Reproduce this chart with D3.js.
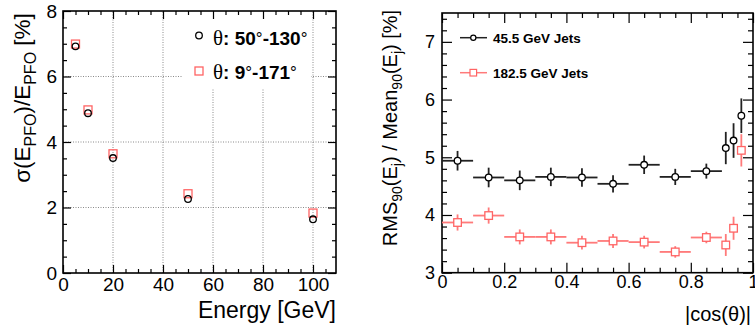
<!DOCTYPE html>
<html><head><meta charset="utf-8">
<script src="https://cdn.jsdelivr.net/npm/d3@7"></script>
<style>
body{margin:0;background:#fff;}
svg{display:block;font-family:"Liberation Sans",Arial,sans-serif;}
</style></head>
<body>
<svg id="c" width="755" height="327"></svg>
<script>
// ---------- Left panel data ----------
const energies = [5, 10, 20, 50, 100];
const resBarrel = [6.92, 4.88, 3.51, 2.26, 1.64];   // theta 50-130, circles
const resFull   = [6.99, 4.98, 3.64, 2.42, 1.83];   // theta 9-171, squares
const leftXTicks = [0, 20, 40, 60, 80, 100];
const leftYTicks = [0, 2, 4, 6, 8];

// ---------- Right panel data ----------
const cosCenters = [0.05, 0.15, 0.25, 0.35, 0.45, 0.55, 0.65, 0.75, 0.85, 0.9125, 0.9375, 0.9625];
const cosHalfWidth = [0.05, 0.05, 0.05, 0.05, 0.05, 0.05, 0.05, 0.05, 0.05, 0, 0, 0];
const jets45  = [4.94, 4.65, 4.60, 4.66, 4.65, 4.54, 4.87, 4.66, 4.76, 5.16, 5.29, 5.72];
const jets45Err = [0.17, 0.17, 0.17, 0.16, 0.16, 0.15, 0.16, 0.14, 0.13, 0.28, 0.30, 0.30];
const jets182 = [3.87, 3.99, 3.62, 3.62, 3.52, 3.55, 3.53, 3.36, 3.61, 3.48, 3.77, 5.12];
const jets182Err = [0.14, 0.14, 0.13, 0.13, 0.12, 0.12, 0.11, 0.10, 0.10, 0.19, 0.20, 0.28];
const rightXTicks = [0, 0.2, 0.4, 0.6, 0.8, 1];
const rightYTicks = [3, 4, 5, 6, 7];

const RED = "#ff6464";
const svg = d3.select("#c");

// ================= LEFT PANEL =================
const xL = d3.scaleLinear().domain([0, 109.2]).range([63, 336]);
const yL = d3.scaleLinear().domain([0, 8]).range([273, 11]);
const L = svg.append("g");

// grid
const grid = L.append("g").attr("stroke", "#8a8a8a").attr("stroke-width", 1).attr("stroke-dasharray", "1,1.5");
leftXTicks.filter(d => d > 0).forEach(d => grid.append("line").attr("x1", xL(d)).attr("x2", xL(d)).attr("y1", yL(0)).attr("y2", yL(8)));
leftYTicks.filter(d => d > 0 && d < 8).forEach(d => grid.append("line").attr("x1", xL(0)).attr("x2", xL(109.2)).attr("y1", yL(d)).attr("y2", yL(d)));
// legend background
L.append("rect").attr("x", 182).attr("y", 12).attr("width", 129).attr("height", 77).attr("fill", "#fff");

function frameAxes(g, x, y, xMajor, xMinorStep, yMajor, yMinorStep, opt) {
  const [x0, x1] = x.range(), [y0, y1] = y.range();
  const xd = x.domain(), yd = y.domain();
  const xMinor = d3.range(xd[0], xd[1] + 1e-9, xMinorStep).filter(v => !xMajor.some(m => Math.abs(m - v) < 1e-9));
  const yMinor = d3.range(yd[0], yd[1] + 1e-9, yMinorStep).filter(v => !yMajor.some(m => Math.abs(m - v) < 1e-9));
  const fmt = opt.fmt;
  const styleAx = s => { s.select(".domain").remove(); s.selectAll("line").attr("stroke", "#000").attr("stroke-width", 1.2); s.selectAll("text").attr("font-size", opt.fs).attr("fill", "#000").attr("font-family", "Liberation Sans, Arial, sans-serif"); };
  g.append("g").attr("transform", `translate(0,${y0})`).call(d3.axisBottom(x).tickValues(xMajor).tickFormat(fmt).tickSize(-opt.maj).tickPadding(opt.padX)).call(styleAx);
  g.append("g").attr("transform", `translate(0,${y0})`).call(d3.axisBottom(x).tickValues(xMinor).tickFormat("").tickSize(-opt.min)).call(styleAx);
  g.append("g").attr("transform", `translate(0,${y1})`).call(d3.axisTop(x).tickValues(xMajor).tickFormat("").tickSize(-opt.maj)).call(styleAx);
  g.append("g").attr("transform", `translate(0,${y1})`).call(d3.axisTop(x).tickValues(xMinor).tickFormat("").tickSize(-opt.min)).call(styleAx);
  g.append("g").attr("transform", `translate(${x0},0)`).call(d3.axisLeft(y).tickValues(yMajor).tickFormat(d3.format("d")).tickSize(-opt.maj).tickPadding(opt.padY)).call(styleAx);
  g.append("g").attr("transform", `translate(${x0},0)`).call(d3.axisLeft(y).tickValues(yMinor).tickFormat("").tickSize(-opt.min)).call(styleAx);
  g.append("g").attr("transform", `translate(${x1},0)`).call(d3.axisRight(y).tickValues(yMajor).tickFormat("").tickSize(-opt.maj)).call(styleAx);
  g.append("g").attr("transform", `translate(${x1},0)`).call(d3.axisRight(y).tickValues(yMinor).tickFormat("").tickSize(-opt.min)).call(styleAx);
  g.append("rect").attr("x", x0).attr("y", y1).attr("width", x1 - x0).attr("height", y0 - y1).attr("fill", "none").attr("stroke", "#000").attr("stroke-width", 1.6);
}

frameAxes(L, xL, yL, leftXTicks, 5, leftYTicks, 0.5, {maj: 8, min: 4, fs: 19, padX: 5, padY: 6, fmt: d3.format("d")});

// markers left
L.append("g").selectAll("rect").data(energies).join("rect")
  .attr("x", (d, i) => xL(d) - 4).attr("y", (d, i) => yL(resFull[i]) - 4)
  .attr("width", 8).attr("height", 8).attr("fill", "none").attr("stroke", RED).attr("stroke-width", 1.3);
L.append("g").selectAll("circle").data(energies).join("circle")
  .attr("cx", d => xL(d)).attr("cy", (d, i) => yL(resBarrel[i])).attr("r", 3.3)
  .attr("fill", "none").attr("stroke", "#000").attr("stroke-width", 1.3);

// legend left
L.append("circle").attr("cx", 199).attr("cy", 35.5).attr("r", 3.3).attr("fill", "none").attr("stroke", "#000").attr("stroke-width", 1.3);
L.append("rect").attr("x", 195).attr("y", 67).attr("width", 8).attr("height", 8).attr("fill", "none").attr("stroke", RED).attr("stroke-width", 1.3);
function legTheta(x, y, a, b) {
  const t = L.append("text").attr("x", x).attr("y", y).attr("font-size", 19).attr("font-weight", "bold");
  t.append("tspan").attr("font-family", "Liberation Serif, serif").attr("font-weight", "normal").attr("font-size", 21).text("θ");
  t.append("tspan").text(": " + a);
  t.append("tspan").attr("font-weight", "normal").attr("font-size", 17).attr("dy", -1).text("°");
  t.append("tspan").attr("dy", 1).text("-" + b);
  t.append("tspan").attr("font-weight", "normal").attr("font-size", 17).attr("dy", -1).text("°");
}
legTheta(213, 44.5, "50", "130");
legTheta(213, 78.5, "9", "171");

// axis titles left
L.append("text").attr("x", 336).attr("y", 318).attr("text-anchor", "end").attr("font-size", 23).text("Energy [GeV]");
{
  const t = L.append("text").attr("transform", "translate(30,98) rotate(-90)").attr("text-anchor", "middle").attr("font-size", 22.5);
  t.append("tspan").text("σ(E");
  t.append("tspan").attr("font-size", 16).attr("dy", 6).text("PFO");
  t.append("tspan").attr("dy", -6).text(")/E");
  t.append("tspan").attr("font-size", 16).attr("dy", 6).text("PFO");
  t.append("tspan").attr("dy", -6).text(" [%]");
}

// ================= RIGHT PANEL =================
const xR = d3.scaleLinear().domain([0, 1]).range([442, 753]);
const yR = d3.scaleLinear().domain([3, 7.5]).range([272.7, 13]);
const R = svg.append("g");
frameAxes(R, xR, yR, rightXTicks, 0.05, rightYTicks, 0.2, {maj: 10, min: 5, fs: 18, padX: 3, padY: 7, fmt: d => d === 0 || d === 1 ? d3.format("d")(d) : d3.format(".1f")(d)});

function series(vals, errs, color, stroke, isSquare) {
  const g = R.append("g").attr("stroke", stroke).attr("stroke-width", 1.8);
  cosCenters.forEach((c, i) => {
    if (cosHalfWidth[i] > 0)
      g.append("line").attr("x1", xR(c - cosHalfWidth[i])).attr("x2", xR(c + cosHalfWidth[i])).attr("y1", yR(vals[i])).attr("y2", yR(vals[i]));
    g.append("line").attr("x1", xR(c)).attr("x2", xR(c)).attr("y1", yR(vals[i] - errs[i])).attr("y2", yR(vals[i] + errs[i]));
  });
  const m = R.append("g");
  cosCenters.forEach((c, i) => {
    if (isSquare) m.append("rect").attr("x", xR(c) - 3.8).attr("y", yR(vals[i]) - 3.8).attr("width", 7.6).attr("height", 7.6).attr("fill", "#fff").attr("stroke", color).attr("stroke-width", 1.3);
    else m.append("circle").attr("cx", xR(c)).attr("cy", yR(vals[i])).attr("r", 3.3).attr("fill", "#fff").attr("stroke", color).attr("stroke-width", 1.3);
  });
}
series(jets182, jets182Err, RED, "#ff7a7a", true);
series(jets45, jets45Err, "#000", "#222", false);

// legend right
R.append("line").attr("x1", 460).attr("x2", 487).attr("y1", 37.7).attr("y2", 37.7).attr("stroke", "#222").attr("stroke-width", 1.5);
R.append("circle").attr("cx", 473.3).attr("cy", 37.7).attr("r", 2.6).attr("fill", "#fff").attr("stroke", "#000").attr("stroke-width", 1.2);
R.append("text").attr("x", 493).attr("y", 42.8).attr("font-size", 13.5).attr("font-weight", "bold").text("45.5 GeV Jets");
R.append("line").attr("x1", 460).attr("x2", 487).attr("y1", 72.7).attr("y2", 72.7).attr("stroke", "#ff7a7a").attr("stroke-width", 1.5);
R.append("rect").attr("x", 470).attr("y", 69.4).attr("width", 6.6).attr("height", 6.6).attr("fill", "#fff").attr("stroke", RED).attr("stroke-width", 1.2);
R.append("text").attr("x", 493).attr("y", 77.6).attr("font-size", 13.5).attr("font-weight", "bold").text("182.5 GeV Jets");

// axis titles right
R.append("text").attr("x", 751).attr("y", 321).attr("text-anchor", "end").attr("font-size", 20).text("|cos(θ)|");
{
  const t = R.append("text").attr("transform", "translate(397,128) rotate(-90)").attr("text-anchor", "middle").attr("font-size", 20);
  t.append("tspan").text("RMS");
  t.append("tspan").attr("font-size", 14).attr("dy", 5).text("90");
  t.append("tspan").attr("dy", -5).text("(E");
  t.append("tspan").attr("font-size", 14).attr("dy", 5).text("j");
  t.append("tspan").attr("dy", -5).text(") / Mean");
  t.append("tspan").attr("font-size", 14).attr("dy", 5).text("90");
  t.append("tspan").attr("dy", -5).text("(E");
  t.append("tspan").attr("font-size", 14).attr("dy", 5).text("j");
  t.append("tspan").attr("dy", -5).text(") [%]");
}
</script>
</body></html>
